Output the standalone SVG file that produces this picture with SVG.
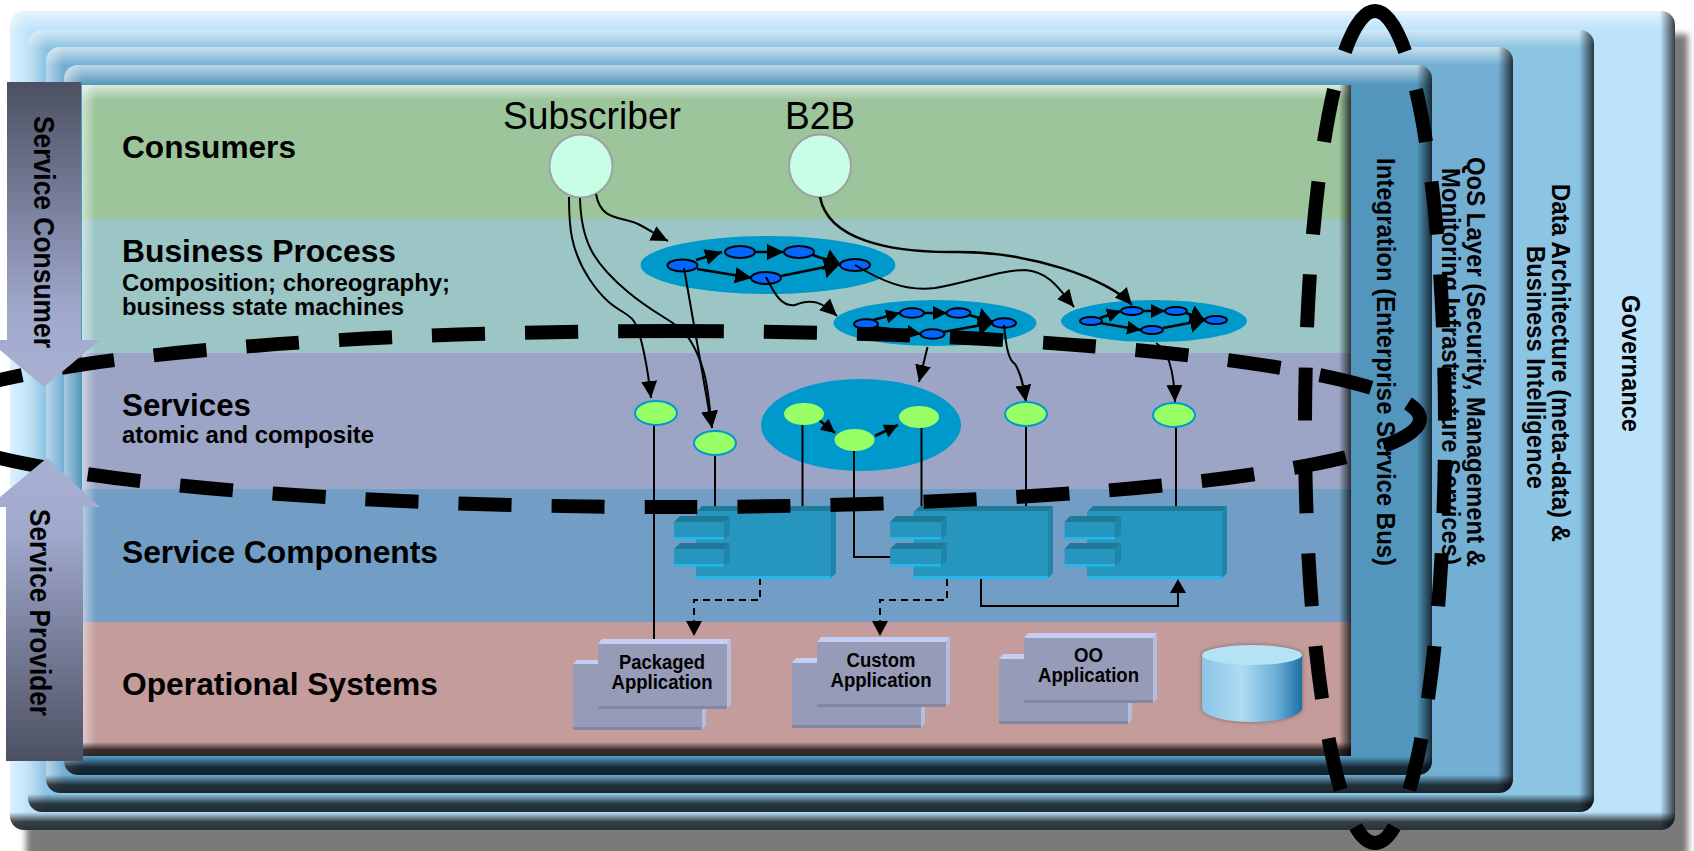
<svg xmlns="http://www.w3.org/2000/svg" width="1694" height="851" viewBox="0 0 1694 851">
<style>
text{font-family:"Liberation Sans",Arial,sans-serif;fill:#000}
.h{font-size:32px;font-weight:bold}
.s{font-size:23px;font-weight:bold}
.v{font-size:26px;font-weight:bold}
.sv{font-size:29px;font-weight:bold}
.app{font-size:20px;font-weight:bold;text-anchor:middle}
.c{fill:none;stroke:#000;stroke-width:2}
.in{fill:none;stroke:#000;stroke-width:2.5}
.pn{fill:#0066ff;stroke:#000;stroke-width:2}
.gn{fill:#99ff66;stroke:#0099cc;stroke-width:2}
.ge{fill:#99ff66}
.blob{fill:#0099cc}
.cons{fill:#c8fde6;stroke:#a0a0a0;stroke-width:2}
.dash{fill:none;stroke:#000;stroke-width:14;stroke-dasharray:53 40}
.dashb{fill:none;stroke:#000;stroke-width:14;stroke-dasharray:53 40;stroke-dashoffset:26.5}
.cf{fill:#2696bf}.ct{fill:#1f7a9a}.cr{fill:#1f86aa}.cb{fill:#22b8ee}
.af{fill:#969cb8}.at{fill:#c6cdf2}.ar{fill:#b6bddc}.ab{fill:#8288a2}
</style>
<defs>
<linearGradient id="top" x1="0" y1="0" x2="0" y2="1"><stop offset="0" stop-color="#fff" stop-opacity=".62"/><stop offset="1" stop-color="#fff" stop-opacity="0"/></linearGradient>
<linearGradient id="left" x1="0" y1="0" x2="1" y2="0"><stop offset="0" stop-color="#fff" stop-opacity=".5"/><stop offset="1" stop-color="#fff" stop-opacity="0"/></linearGradient>
<linearGradient id="right" x1="0" y1="0" x2="1" y2="0"><stop offset="0" stop-color="#000" stop-opacity="0"/><stop offset="1" stop-color="#000" stop-opacity=".72"/></linearGradient>
<linearGradient id="bot" x1="0" y1="0" x2="0" y2="1"><stop offset="0" stop-color="#000" stop-opacity="0"/><stop offset=".55" stop-color="#000" stop-opacity=".72"/><stop offset="1" stop-color="#000" stop-opacity=".78"/></linearGradient>
<linearGradient id="cons" x1="0" y1="0" x2="0" y2="1"><stop offset="0" stop-color="#4c5062"/><stop offset=".75" stop-color="#a0a8cc"/><stop offset="1" stop-color="#a8b0d2"/></linearGradient>
<linearGradient id="prov" x1="0" y1="0" x2="0" y2="1"><stop offset="0" stop-color="#a8b0d2"/><stop offset=".25" stop-color="#a0a8cc"/><stop offset="1" stop-color="#4c5062"/></linearGradient>
<linearGradient id="cyl" x1="0" y1="0" x2="1" y2="0"><stop offset="0" stop-color="#8cc4e4"/><stop offset=".4" stop-color="#aedcf3"/><stop offset=".75" stop-color="#6aaed6"/><stop offset="1" stop-color="#1f6fa5"/></linearGradient>
<filter id="blur" x="-5%" y="-5%" width="110%" height="110%"><feGaussianBlur stdDeviation="3"/></filter>
<filter id="blur2" x="-20%" y="-20%" width="140%" height="140%"><feGaussianBlur stdDeviation="2"/></filter>
<filter id="blur3" x="-5%" y="-5%" width="110%" height="110%"><feGaussianBlur stdDeviation=".7"/></filter>
<marker id="a" viewBox="0 0 10 10" refX="10" refY="5" markerWidth="17" markerHeight="16" markerUnits="userSpaceOnUse" orient="auto" preserveAspectRatio="none"><path d="M0 0L10 5L0 10z"/></marker>
<marker id="aL" viewBox="0 0 10 10" refX="10" refY="5" markerWidth="16" markerHeight="22" markerUnits="userSpaceOnUse" orient="auto" preserveAspectRatio="none"><path d="M0 0L10 5L0 10z"/></marker>
<marker id="aS" viewBox="0 0 10 10" refX="10" refY="5" markerWidth="14" markerHeight="14" markerUnits="userSpaceOnUse" orient="auto" preserveAspectRatio="none"><path d="M0 0L10 5L0 10z"/></marker>
<marker id="aM" viewBox="0 0 10 10" refX="10" refY="5" markerWidth="15" markerHeight="20" markerUnits="userSpaceOnUse" orient="auto" preserveAspectRatio="none"><path d="M0 0L10 5L0 10z"/></marker>
<clipPath id="p1"><rect x="10" y="11" width="1665" height="819" rx="14"/></clipPath>
<clipPath id="p2"><rect x="28" y="30" width="1566" height="782" rx="14"/></clipPath>
<clipPath id="p3"><rect x="46" y="47" width="1467" height="746" rx="14"/></clipPath>
<clipPath id="p4"><rect x="64" y="65" width="1368" height="710" rx="14"/></clipPath>
</defs>

<rect id="shadow" x="26" y="34" width="1662" height="830" fill="#7a7a7a" filter="url(#blur)"/>

<g id="governance" clip-path="url(#p1)">
<rect x="10" y="11" width="1665" height="819" fill="#bde3fb"/>
<rect x="10" y="11" width="1665" height="19" fill="url(#top)"/>
<rect x="10" y="11" width="18" height="819" fill="url(#left)"/>
<rect x="1660" y="11" width="15" height="819" fill="url(#right)"/>
<rect x="10" y="812" width="1665" height="18" fill="url(#bot)"/>
</g>
<g id="data-architecture" clip-path="url(#p2)">
<rect x="28" y="30" width="1566" height="782" fill="#8cc4e4"/>
<rect x="28" y="30" width="1566" height="18" fill="url(#top)"/>
<rect x="28" y="30" width="18" height="782" fill="url(#left)"/>
<rect x="1579" y="30" width="15" height="782" fill="url(#right)"/>
<rect x="28" y="794" width="1566" height="18" fill="url(#bot)"/>
</g>
<g id="qos-layer" clip-path="url(#p3)">
<rect x="46" y="47" width="1467" height="746" fill="#73aed3"/>
<rect x="46" y="47" width="1467" height="18" fill="url(#top)"/>
<rect x="46" y="47" width="18" height="746" fill="url(#left)"/>
<rect x="1498" y="47" width="15" height="746" fill="url(#right)"/>
<rect x="46" y="775" width="1467" height="18" fill="url(#bot)"/>
</g>
<g id="integration" clip-path="url(#p4)">
<rect x="64" y="65" width="1368" height="710" fill="#5296bd"/>
<rect x="64" y="65" width="1368" height="20" fill="url(#top)"/>
<rect x="64" y="65" width="18" height="710" fill="url(#left)"/>
<rect x="1417" y="65" width="15" height="710" fill="url(#right)"/>
<rect x="64" y="757" width="1368" height="18" fill="url(#bot)"/>
</g>

<g id="layer-labels-side">
<text class="v" transform="translate(1622,295) rotate(90)" textLength="137" lengthAdjust="spacingAndGlyphs">Governance</text>
<text class="v" transform="translate(1552,184) rotate(90)" textLength="358" lengthAdjust="spacingAndGlyphs">Data Architecture (meta-data) &amp;</text>
<text class="v" transform="translate(1527,246) rotate(90)" textLength="243" lengthAdjust="spacingAndGlyphs">Business Intelligence</text>
<text class="v" transform="translate(1467,157) rotate(90)" textLength="410" lengthAdjust="spacingAndGlyphs">QoS Layer (Security, Management &amp;</text>
<text class="v" transform="translate(1442,168) rotate(90)" textLength="397" lengthAdjust="spacingAndGlyphs">Monitoring Infrastructure Services)</text>
<text class="v" transform="translate(1377,158) rotate(90)" textLength="408" lengthAdjust="spacingAndGlyphs">Integration (Enterprise Service Bus)</text>
</g>

<g id="bands">
<rect id="band-consumers" x="82" y="85" width="1269" height="134" fill="#9cc59c"/>
<rect id="band-process" x="82" y="219" width="1269" height="134" fill="#9cc5c5"/>
<rect id="band-services" x="82" y="353" width="1269" height="136" fill="#9ca5c5"/>
<rect id="band-components" x="82" y="489" width="1269" height="133" fill="#729ec5"/>
<rect id="band-operational" x="82" y="622" width="1269" height="134" fill="#c49c9c"/>
<rect x="82" y="85" width="1269" height="15" fill="url(#top)"/>
<rect x="82" y="85" width="14" height="671" fill="url(#left)"/>
<rect x="1339" y="85" width="12" height="671" fill="url(#right)"/>
<rect x="82" y="742" width="1269" height="14" fill="url(#bot)"/>
</g>

<g id="band-labels">
<text class="h" x="122" y="158" textLength="174" lengthAdjust="spacingAndGlyphs">Consumers</text>
<text class="h" x="122" y="262" textLength="274" lengthAdjust="spacingAndGlyphs">Business Process</text>
<text class="s" x="122" y="291" textLength="328" lengthAdjust="spacingAndGlyphs">Composition; choreography;</text>
<text class="s" x="122" y="315" textLength="282" lengthAdjust="spacingAndGlyphs">business state machines</text>
<text class="h" x="122" y="416" textLength="129" lengthAdjust="spacingAndGlyphs">Services</text>
<text class="s" x="122" y="443" textLength="252" lengthAdjust="spacingAndGlyphs">atomic and composite</text>
<text class="h" x="122" y="563" textLength="316" lengthAdjust="spacingAndGlyphs">Service Components</text>
<text class="h" x="122" y="695" textLength="316" lengthAdjust="spacingAndGlyphs">Operational Systems</text>
</g>

<g id="subscriber"><text x="503" y="129" font-size="38" textLength="178" lengthAdjust="spacingAndGlyphs">Subscriber</text><ellipse class="cons" cx="581" cy="166" rx="31.5" ry="31.5"/></g>
<g id="b2b"><text x="785" y="129" font-size="38" textLength="70" lengthAdjust="spacingAndGlyphs">B2B</text><ellipse class="cons" cx="820" cy="166" rx="31" ry="31.5"/></g>

<g id="process-1">
<ellipse class="blob" cx="768" cy="265" rx="127.5" ry="29"/>
<path class="in" marker-end="url(#a)" d="M696 260L722 252"/><path class="in" marker-end="url(#a)" d="M755 252L784 252"/><path class="in" marker-end="url(#aL)" d="M813 255L841 265"/><path class="in" marker-end="url(#a)" d="M697 269L752 278"/><path class="in" marker-end="url(#aL)" d="M781 276L840 264"/>
<ellipse class="pn" cx="682.500" cy="265.500" rx="15" ry="6"/><ellipse class="pn" cx="740" cy="252" rx="15" ry="6"/><ellipse class="pn" cx="799" cy="252" rx="15" ry="6"/><ellipse class="pn" cx="855" cy="265" rx="15" ry="6"/><ellipse class="pn" cx="766" cy="278" rx="15" ry="6"/>
</g>
<g id="process-2">
<ellipse class="blob" cx="935" cy="323" rx="101.500" ry="23"/>
<path class="in" marker-end="url(#aS)" d="M873 320L900 313"/><path class="in" marker-end="url(#aS)" d="M924 313L947 313"/><path class="in" marker-end="url(#aM)" d="M969 315L993 322"/><path class="in" marker-end="url(#aS)" d="M875 327L921 334"/><path class="in" marker-end="url(#aM)" d="M943 332L993 323"/>
<ellipse class="pn" cx="866" cy="324" rx="12" ry="4.700"/><ellipse class="pn" cx="912" cy="313" rx="12" ry="4.700"/><ellipse class="pn" cx="958.500" cy="313" rx="12" ry="4.700"/><ellipse class="pn" cx="1004" cy="323" rx="12" ry="4.700"/><ellipse class="pn" cx="932.500" cy="334" rx="12" ry="4.700"/>
</g>
<g id="process-3">
<ellipse class="blob" cx="1154" cy="321" rx="93" ry="21"/>
<path class="in" marker-end="url(#aS)" d="M1100 318L1121 311"/><path class="in" marker-end="url(#aS)" d="M1143 311L1165 311"/><path class="in" marker-end="url(#aM)" d="M1186 313L1205 320"/><path class="in" marker-end="url(#aS)" d="M1100 323L1141 330"/><path class="in" marker-end="url(#aM)" d="M1163 328L1205 320"/>
<ellipse class="pn" cx="1091" cy="321" rx="11" ry="4"/><ellipse class="pn" cx="1132" cy="311" rx="11" ry="4"/><ellipse class="pn" cx="1176" cy="311" rx="11" ry="4"/><ellipse class="pn" cx="1216" cy="320" rx="11" ry="4"/><ellipse class="pn" cx="1152" cy="330" rx="11" ry="4"/>
</g>
<g id="composite-service">
<ellipse class="blob" cx="861" cy="425" rx="100" ry="46"/>
<path class="in" marker-end="url(#aS)" d="M819 420L835 433"/><path class="in" marker-end="url(#aS)" d="M875 436L898 425"/>
</g>

<g id="connectors">
<path class="c" marker-end="url(#a)" d="M596 194C601 222 622 216 638 224C650 230 658 236 668 241"/>
<path class="c" d="M569 197C569 225 570 250 590 280S625 310 633 320S648 370 651 398" marker-end="url(#a)"/>
<path class="c" d="M580 198C581 240 592 262 628 292S680 320 694 347S708 395 712 428" marker-end="url(#a)"/>
<path class="c" d="M684 268L712 428" marker-end="url(#a)"/>
<path class="in" d="M820 197C828 240 890 252 950 252C1030 250 1110 280 1132 305" marker-end="url(#a)"/>
<path class="c" d="M855 265C880 280 905 292 935 288C970 282 1000 270 1025 270C1050 272 1060 290 1074 307" marker-end="url(#a)"/>
<path class="c" d="M766 277C775 295 782 307 795 305C812 298 822 302 837 316" marker-end="url(#a)"/>
<path class="c" d="M927.500 347L919 382" marker-end="url(#a)"/>
<path class="c" d="M1004 325C1006 345 1008 360 1015 364C1022 375 1024 390 1026 402" marker-end="url(#a)"/>
<path class="c" d="M1156 343C1168 350 1174 370 1175 402" marker-end="url(#a)"/>
<path class="c" d="M654 425V639M715 455V506M802.500 420V506M921.500 428V506M1026 426V506M1176 427V506"/>
<path class="c" d="M854 451V557H890"/>
<path class="c" stroke-dasharray="7 5" d="M760 578V600H694V622"/>
<path class="c" stroke-dasharray="7 5" d="M947 579V600H880V622"/>
<path d="M686 621H702L694 636zM872 621H888L880 636z"/>
<path class="c" d="M981 579V606H1178V592"/>
<path d="M1170 593H1186L1178 579z"/>
</g>

<g id="service-nodes">
<ellipse class="gn" cx="656" cy="413" rx="21" ry="12"/>
<ellipse class="gn" cx="715" cy="443" rx="21" ry="12"/>
<ellipse class="gn" cx="1026" cy="414" rx="21" ry="12"/>
<ellipse class="gn" cx="1174" cy="415" rx="21" ry="12"/>
<ellipse class="ge" cx="804" cy="414" rx="20" ry="11"/>
<ellipse class="ge" cx="854.500" cy="440" rx="20" ry="11"/>
<ellipse class="ge" cx="919" cy="417" rx="20" ry="11"/>
</g>

<g id="component-1">
<path class="ct" d="M696 512L702 506H836L831 512z"/><path class="cr" d="M831 512L836 506V573L831 578z"/><rect class="cf" x="696" y="511" width="135" height="65"/><rect class="cb" x="696" y="576" width="135" height="3"/>
<path class="ct" d="M674 522L680 516H730L724 522z"/><path class="cr" d="M724 522L730 516V534L724 539z"/><rect class="cf" x="674" y="522" width="50" height="15"/><rect class="cb" x="674" y="537" width="50" height="2.500"/>
<path class="ct" d="M674 549L680 543H730L724 549z"/><path class="cr" d="M724 549L730 543V561L724 566z"/><rect class="cf" x="674" y="549" width="50" height="15"/><rect class="cb" x="674" y="564" width="50" height="2.500"/>
</g>
<g id="component-2">
<path class="ct" d="M913.500 512L920 506H1053L1048 512z"/><path class="cr" d="M1048 512L1053 506V573L1048 578z"/><rect class="cf" x="913.500" y="511" width="134.500" height="65"/><rect class="cb" x="913.500" y="576" width="134.500" height="3"/>
<path class="ct" d="M890 522L896 516H947L941 522z"/><path class="cr" d="M941 522L947 516V534L941 539z"/><rect class="cf" x="890" y="522" width="51" height="15"/><rect class="cb" x="890" y="537" width="51" height="2.500"/>
<path class="ct" d="M890 549L896 543H947L941 549z"/><path class="cr" d="M941 549L947 543V561L941 566z"/><rect class="cf" x="890" y="549" width="51" height="15"/><rect class="cb" x="890" y="564" width="51" height="2.500"/>
</g>
<g id="component-3">
<path class="ct" d="M1087 512L1093 506H1227L1222 512z"/><path class="cr" d="M1222 512L1227 506V573L1222 578z"/><rect class="cf" x="1087" y="511" width="135" height="65"/><rect class="cb" x="1087" y="576" width="135" height="3"/>
<path class="ct" d="M1064.500 522L1070 516H1121L1115 522z"/><path class="cr" d="M1115 522L1121 516V534L1115 539z"/><rect class="cf" x="1064.500" y="522" width="50.500" height="15"/><rect class="cb" x="1064.500" y="537" width="50.500" height="2.500"/>
<path class="ct" d="M1064.500 549L1070 543H1121L1115 549z"/><path class="cr" d="M1115 549L1121 543V561L1115 566z"/><rect class="cf" x="1064.500" y="549" width="50.500" height="15"/><rect class="cb" x="1064.500" y="564" width="50.500" height="2.500"/>
</g>

<g id="packaged-application">
<path class="at" d="M573 664L577 660H706L702 664z"/><path class="ar" d="M702 664L706 660V725L702 730z"/><rect class="af" x="573" y="664" width="129" height="63"/><rect class="ab" x="573" y="727" width="129" height="3"/>
<path class="at" d="M598 644L602 639H731L727 644z"/><path class="ar" d="M727 644L731 639V704L727 709z"/><rect class="af" x="598" y="644" width="129" height="62"/><rect class="ab" x="598" y="706" width="129" height="3"/>
<text class="app" x="662" y="669" textLength="86" lengthAdjust="spacingAndGlyphs">Packaged</text><text class="app" x="662" y="689" textLength="101" lengthAdjust="spacingAndGlyphs">Application</text>
</g>
<g id="custom-application">
<path class="at" d="M792 663L796 658H925L921 663z"/><path class="ar" d="M921 663L925 658V723L921 728z"/><rect class="af" x="792" y="663" width="129" height="62"/><rect class="ab" x="792" y="725" width="129" height="3"/>
<path class="at" d="M817 642L821 637H950L946 642z"/><path class="ar" d="M946 642L950 637V702L946 707z"/><rect class="af" x="817" y="642" width="129" height="62"/><rect class="ab" x="817" y="704" width="129" height="3"/>
<text class="app" x="881" y="667" textLength="69" lengthAdjust="spacingAndGlyphs">Custom</text><text class="app" x="881" y="687" textLength="101" lengthAdjust="spacingAndGlyphs">Application</text>
</g>
<g id="oo-application">
<path class="at" d="M999 659L1003 654H1132L1128 659z"/><path class="ar" d="M1128 659L1132 654V719L1128 724z"/><rect class="af" x="999" y="659" width="129" height="62"/><rect class="ab" x="999" y="721" width="129" height="3"/>
<path class="at" d="M1024 638L1028 633H1157L1153 638z"/><path class="ar" d="M1153 638L1157 633V698L1153 703z"/><rect class="af" x="1024" y="638" width="129" height="62"/><rect class="ab" x="1024" y="700" width="129" height="3"/>
<text class="app" x="1088.500" y="662" textLength="29" lengthAdjust="spacingAndGlyphs">OO</text><text class="app" x="1088.500" y="682" textLength="101" lengthAdjust="spacingAndGlyphs">Application</text>
</g>
<g id="database">
<path d="M1202 655A50 10 0 0 1 1302 655V708A50 14 0 0 1 1202 708z" fill="#5a4a4a" opacity=".7" filter="url(#blur2)"/>
<g filter="url(#blur3)">
<path d="M1202 655V708A50 14 0 0 0 1302 708V655z" fill="url(#cyl)"/>
<ellipse cx="1252" cy="655" rx="50" ry="10" fill="#b5e3f6"/>
</g>
</g>

<g id="scope-horizontal">
<path class="dash" d="M671 331A749 88 0 0 1 1420 419"/>
<path class="dash" d="M671 331A749 88 0 0 0 -78 419"/>
<path class="dashb" d="M671 507A749 88 0 0 0 1420 419"/>
<path class="dashb" d="M671 507A749 88 0 0 1 -78 419"/>
</g>

<g id="service-consumer">
<path d="M7 82H81V340H100L44 387L-12 340H7z" fill="url(#cons)"/>
<text class="sv" transform="translate(34,116) rotate(90)" textLength="232" lengthAdjust="spacingAndGlyphs">Service Consumer</text>
</g>
<g id="service-provider">
<path d="M6 761H83V507H100L47 458L-12 507H6z" fill="url(#prov)"/>
<text class="sv" transform="translate(30,509) rotate(90)" textLength="207" lengthAdjust="spacingAndGlyphs">Service Provider</text>
</g>

<g id="scope-vertical">
<path class="dash" d="M1375 11A70 416 0 0 1 1445 427A70 416 0 0 1 1375 843"/>
<path class="dash" d="M1375 11A70 416 0 0 0 1305 427A70 416 0 0 0 1375 843"/>
</g>
</svg>
